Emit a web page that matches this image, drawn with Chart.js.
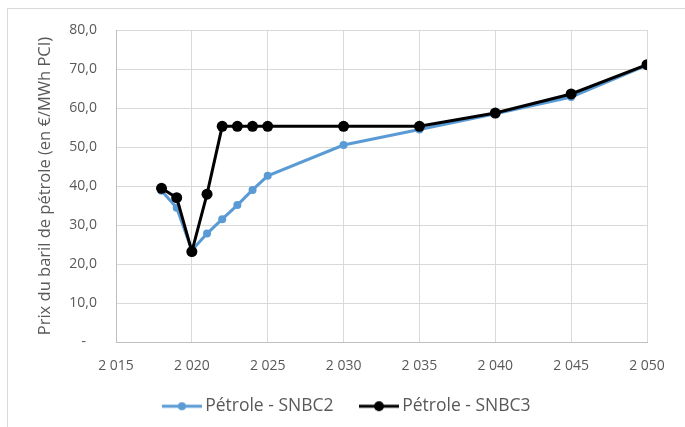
<!DOCTYPE html>
<html><head><meta charset="utf-8">
<script src="https://cdn.jsdelivr.net/npm/chart.js@4/dist/chart.umd.min.js"></script>
<style>html,body{margin:0;padding:0;background:#fff}#wrap{width:685px;height:427px;position:relative}</style>
</head><body><div id="wrap"><canvas id="c"></canvas></div>
<script>
const yearsSNBC2 = [2018, 2019, 2020, 2021, 2022, 2023, 2024, 2025, 2030, 2035, 2040, 2045, 2050];
const valuesSNBC2 = [38.8, 34.4, 23.5, 27.8, 31.5, 35.1, 39.0, 42.6, 50.5, 54.5, 58.5, 62.8, 71.0];
const yearsSNBC3 = [2018, 2019, 2020, 2021, 2022, 2023, 2024, 2025, 2030, 2035, 2040, 2045, 2050];
const valuesSNBC3 = [39.4, 37.0, 23.2, 37.9, 55.3, 55.3, 55.3, 55.3, 55.3, 55.3, 58.7, 63.6, 71.1];
const seriesNames = ['Pétrole - SNBC2', 'Pétrole - SNBC3'];
const yTitle = 'Prix du baril de pétrole (en €/MWh PCI)';

const FONT = '"Open Sans", sans-serif';
const TXT = '#595959';
const BLUE = '#5B9BD5';

function legendIcon(color, r) {
  const c = document.createElement('canvas');
  c.width = 45; c.height = 12;
  const g = c.getContext('2d');
  g.strokeStyle = color; g.lineWidth = 3;
  g.beginPath(); g.moveTo(5, 6); g.lineTo(45, 6); g.stroke();
  g.fillStyle = color; g.beginPath(); g.arc(25, 6, r, 0, Math.PI * 2); g.fill();
  return c;
}

const framePlugin = {
  id: 'frame',
  beforeDraw(chart) {
    const ctx = chart.ctx;
    ctx.save();
    ctx.fillStyle = '#fff';
    ctx.fillRect(0, 0, chart.width, chart.height);
    ctx.strokeStyle = '#d9d9d9';
    ctx.lineWidth = 1;
    ctx.strokeRect(7.5, 8.5, 720, 440);
    ctx.restore();
  },
  afterLayout(chart) {
    if (chart.legend) { chart.legend.left += 8; chart.legend.right += 8; }
  }
};

new Chart(document.getElementById('c'), {
  type: 'line',
  data: {
    datasets: [
      {
        label: seriesNames[0],
        data: yearsSNBC2.map((x, i) => ({x, y: valuesSNBC2[i]})),
        borderColor: BLUE, backgroundColor: BLUE,
        borderWidth: 3, pointRadius: 4, pointHoverRadius: 4,
        pointBackgroundColor: BLUE, pointBorderWidth: 0,
        order: 1, tension: 0
      },
      {
        label: seriesNames[1],
        data: yearsSNBC3.map((x, i) => ({x, y: valuesSNBC3[i]})),
        borderColor: '#000', backgroundColor: '#000',
        borderWidth: 3, pointRadius: 5.5, pointHoverRadius: 5.5,
        pointBackgroundColor: '#000', pointBorderWidth: 0,
        order: 0, tension: 0
      }
    ]
  },
  options: {
    responsive: true, maintainAspectRatio: false, animation: false,
    layout: { padding: { left: 30, top: 30, right: 38, bottom: 2 } },
    plugins: {
      tooltip: { enabled: false },
      legend: {
        position: 'bottom',
        labels: {
          color: TXT, font: { family: FONT, size: 17.5 },
          usePointStyle: true, pointStyleWidth: 34, padding: 26,
          sort: (a, b) => a.datasetIndex - b.datasetIndex,
          generateLabels(chart) {
            return chart.data.datasets.map((ds, i) => ({
              text: ds.label, datasetIndex: i, fontColor: TXT,
              pointStyle: legendIcon(ds.borderColor, i === 0 ? 4 : 5),
              strokeStyle: ds.borderColor, fillStyle: ds.borderColor, lineWidth: 0, hidden: false
            }));
          }
        }
      }
    },
    scales: {
      x: {
        type: 'linear', min: 2015, max: 2050,
        ticks: {
          stepSize: 5, color: TXT, font: { family: FONT, size: 14 }, padding: 16, maxRotation: 0,
          callback: v => String(v).replace(/(\d)(\d{3})$/, '$1 $2')
        },
        grid: { color: '#d9d9d9', drawTicks: false },
        border: { color: '#bfbfbf' },
        afterFit(s) { s.height = 29.5; }
      },
      y: {
        min: 0, max: 80,
        ticks: {
          stepSize: 10, color: TXT, font: { family: FONT, size: 14 }, padding: 19,
          callback: v => v === 0 ? '-   ' : v.toFixed(1).replace('.', ',')
        },
        grid: { color: '#d9d9d9', drawTicks: false },
        border: { color: '#bfbfbf' },
        title: { display: true, text: yTitle, color: TXT, font: { family: FONT, size: 16.5 }, padding: { top: 5, bottom: 0 } },
        afterFit(s) { s.width = 86; }
      }
    }
  },
  plugins: [framePlugin]
});
</script>
</body></html>
